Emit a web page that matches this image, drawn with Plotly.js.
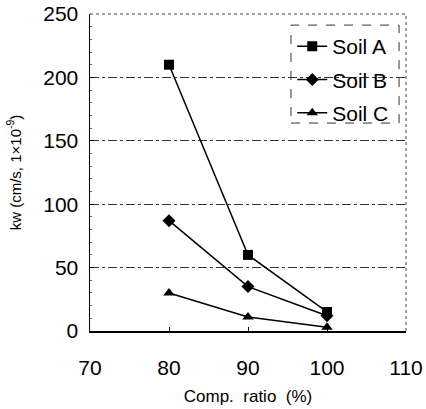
<!DOCTYPE html>
<html><head><meta charset="utf-8">
<script src="https://cdn.plot.ly/plotly-3.0.1.min.js"></script>
<style>html,body{margin:0;padding:0;background:#fff}#chart{width:426px;height:409px}</style>
</head><body><div id="chart"></div>
<script>
var compRatio = [80, 90, 100];
var soilA = [210, 60, 15];
var soilB = [87, 35, 12];
var soilC = [30, 11, 3];
var seriesNames = ['Soil A', 'Soil B', 'Soil C'];
var symbols = ['square', 'diamond', 'triangle-up'];
var sizes = [10, 10, 10];
var allSeries = [soilA, soilB, soilC];

var traces = allSeries.map(function(s, i){
  return {x: compRatio, y: s, name: seriesNames[i], type: 'scatter', mode: 'lines+markers',
    legendgroup: 'g' + i,
    line: {color: '#000', width: 1.5},
    marker: {symbol: symbols[i], size: sizes[i], color: '#000'}};
});

var font = 'Arial, "Liberation Sans", sans-serif';
var layout = {
  width: 426, height: 409,
  margin: {l: 90, r: 20, t: 14, b: 78},
  paper_bgcolor: '#fff', plot_bgcolor: '#fff',
  showlegend: true,
  legend: {x: 0.64, y: 0.962, xanchor: 'left', yanchor: 'top', tracegroupgap: 3,
    borderwidth: 0, bgcolor: 'rgba(255,255,255,0)',
    font: {family: font, size: 21, color: '#000'}, itemwidth: 30},
  xaxis: {range: [70, 110], tickvals: [70, 80, 90, 100, 110], ticks: 'inside', ticklen: 4,
    tickcolor: '#000', showgrid: false, zeroline: false, showline: true, linecolor: '#000', linewidth: 1.5,
    tickfont: {family: font, size: 21, color: '#000'}, ticklabelstandoff: 17,
    title: {text: 'Comp.  ratio  (%)', font: {family: font, size: 17, color: '#000'}, standoff: 12}},
  yaxis: {range: [0, 250], tickvals: [0, 50, 100, 150, 200, 250], ticks: 'inside', ticklen: 4,
    tickcolor: '#000', showgrid: true, gridcolor: '#333', griddash: 'dashdot', gridwidth: 1,
    zeroline: false, showline: true, linecolor: '#000', linewidth: 1.5,
    minor: {dtick: 10, ticks: 'inside', ticklen: 2, tickcolor: '#666', showgrid: false},
    tickfont: {family: font, size: 21, color: '#000'}, ticklabelstandoff: 6,
    title: {text: 'kw (cm/s, 1\u00d710<sup>-9</sup>)', font: {family: font, size: 15, color: '#000'}, standoff: 18}},
  shapes: [
    {type: 'line', xref: 'paper', yref: 'paper', x0: 0, x1: 1, y0: 1, y1: 1, line: {color: '#444', width: 1, dash: 'dot'}},
    {type: 'line', xref: 'paper', yref: 'paper', x0: 1, x1: 1, y0: 0, y1: 1, line: {color: '#444', width: 1, dash: 'dot'}},
    {type: 'rect', xref: 'paper', yref: 'paper', x0: 0.636, x1: 0.978, y0: 0.656, y1: 0.965,
      fillcolor: 'rgba(255,255,255,1)', layer: 'below', line: {color: '#333', width: 1, dash: 'dash'}}
  ]
};
Plotly.newPlot('chart', traces, layout, {displayModeBar: false, staticPlot: true});
</script></body></html>
